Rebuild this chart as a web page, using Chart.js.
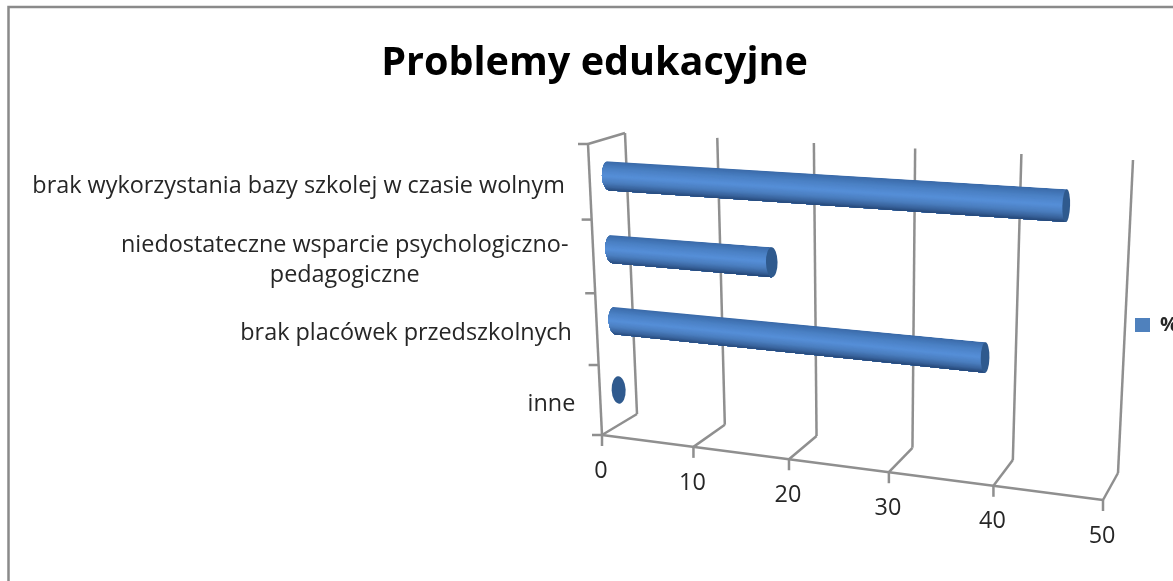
<!DOCTYPE html>
<html>
<head>
<meta charset="utf-8">
<title>Problemy edukacyjne</title>
<script src="https://cdn.jsdelivr.net/npm/chart.js@4"></script>
<style>
  html, body { margin: 0; background: #fff; }
  canvas { display: block; }
</style>
</head>
<body>
<canvas id="myChart" width="1173" height="581"></canvas>
<script>
"use strict";

const categories = [
  "inne",
  "brak placówek przedszkolnych",
  ["niedostateczne wsparcie psychologiczno-", "pedagogiczne"],
  "brak wykorzystania bazy szkolej w czasie wolnym",
];
const seriesName = "%";
const seriesValues = [0, 38, 17, 45];
const xTicks = [0, 10, 20, 30, 40, 50];

// corners of the tilted plot box on screen: top-left, top-right, bottom-right, bottom-left
const backWall = [[625, 133], [1133, 160], [1118, 473], [637, 414]];
const frontWall = [[588, 144], [1117, 176], [1103, 500], [602, 435]];
const gridColor = "#8f8f8f";

// colours across a cylinder, from its top edge to its bottom edge
const shadeStops = [
  [0, [58, 106, 168]],
  [0.25, [75, 129, 197]],
  [0.5, [86, 143, 216]],
  [0.72, [74, 125, 190]],
  [0.88, [56, 98, 155]],
  [1, [36, 70, 118]],
];

// *****perspective helpers*****

function quadMap(q) {
  const [p0, p1, p2, p3] = q;
  const dx1 = p1[0] - p2[0], dx2 = p3[0] - p2[0], sx = p0[0] - p1[0] + p2[0] - p3[0];
  const dy1 = p1[1] - p2[1], dy2 = p3[1] - p2[1], sy = p0[1] - p1[1] + p2[1] - p3[1];
  const det = dx1 * dy2 - dx2 * dy1;
  const g = (sx * dy2 - dx2 * sy) / det;
  const h = (dx1 * sy - sx * dy1) / det;
  const a = p1[0] - p0[0] + g * p1[0], b = p3[0] - p0[0] + h * p3[0];
  const d = p1[1] - p0[1] + g * p1[1], e = p3[1] - p0[1] + h * p3[1];
  return (u, v) => {
    const w = g * u + h * v + 1;
    return [(a * u + b * v + p0[0]) / w, (d * u + e * v + p0[1]) / w];
  };
}

const backMap = quadMap(backWall);
const frontMap = quadMap(frontWall);

// depth 0 is the front of the box, depth 1 the back wall
function project(u, v, depth) {
  const f = frontMap(u, v);
  const b = backMap(u, v);
  return [f[0] + (b[0] - f[0]) * depth, f[1] + (b[1] - f[1]) * depth];
}

function mix(a, b, t) {
  return [a[0] + (b[0] - a[0]) * t, a[1] + (b[1] - a[1]) * t];
}

function line(ctx, a, b) {
  ctx.beginPath();
  ctx.moveTo(a[0], a[1]);
  ctx.lineTo(b[0], b[1]);
  ctx.stroke();
}

function uOf(chart, px) {
  const area = chart.chartArea;
  return (px - area.left) / (area.right - area.left);
}

function vOf(chart, py) {
  const area = chart.chartArea;
  return (py - area.top) / (area.bottom - area.top);
}

function shadeAt(t) {
  let i = 0;
  while (i < shadeStops.length - 2 && t > shadeStops[i + 1][0]) i++;
  const [t0, c0] = shadeStops[i];
  const [t1, c1] = shadeStops[i + 1];
  const k = (t - t0) / (t1 - t0);
  const rgb = c0.map((c, n) => Math.round(c + (c1[n] - c) * k));
  return "rgb(" + rgb.join(",") + ")";
}

// *****box, ticks and labels*****

function drawBox(chart) {
  const ctx = chart.ctx;
  const xScale = chart.scales.x;
  const yScale = chart.scales.y;

  ctx.save();
  ctx.strokeStyle = gridColor;
  ctx.lineWidth = 2.5;

  xScale.ticks.forEach((tick) => {
    const u = uOf(chart, xScale.getPixelForValue(tick.value));
    const front = frontMap(u, 1);
    const back = backMap(u, 1);
    line(ctx, backMap(u, 0), back);
    line(ctx, back, front);
    line(ctx, front, [front[0], front[1] + 11]);
  });

  line(ctx, frontMap(0, 1), frontMap(1, 1));
  line(ctx, frontMap(0, 0), frontMap(0, 1));
  line(ctx, frontMap(0, 0), backMap(0, 0));

  for (let i = 0; i <= categories.length; i++) {
    const p = frontMap(0, i / categories.length);
    line(ctx, p, [p[0] - 10, p[1]]);
  }
  ctx.restore();

  ctx.save();
  ctx.fillStyle = "#262626";
  ctx.font = '23.4px "Open Sans"';
  ctx.textAlign = "center";
  ctx.textBaseline = "middle";
  xScale.ticks.forEach((tick) => {
    const u = uOf(chart, xScale.getPixelForValue(tick.value));
    const p = frontMap(u, 1);
    ctx.fillText(tick.label, p[0] - 1, p[1] + 36);
  });

  categories.forEach((label, i) => {
    const v = vOf(chart, yScale.getPixelForValue(i));
    const p = frontMap(0, v);
    const lines = Array.isArray(label) ? label : [label];
    const widest = Math.max(...lines.map((t) => ctx.measureText(t).width));
    const cx = p[0] - 25 - widest / 2;
    lines.forEach((t, n) => {
      ctx.fillText(t, cx, p[1] + 4 + (n - (lines.length - 1) / 2) * 30);
    });
  });
  ctx.restore();
}

// *****cylinders*****

function endEllipse(a, b, rx) {
  return {
    cx: (a[0] + b[0]) / 2,
    cy: (a[1] + b[1]) / 2,
    rx: rx,
    ry: Math.hypot(b[0] - a[0], b[1] - a[1]) / 2,
    rot: Math.atan2(b[1] - a[1], b[0] - a[0]) - Math.PI / 2,
  };
}

function drawCylinder(chart, bar) {
  const ctx = chart.ctx;
  const depth = 0.52;
  const u0 = uOf(chart, bar.base);
  const u1 = uOf(chart, bar.x);
  const vTop = vOf(chart, bar.y - bar.height / 2);
  const vBot = vOf(chart, bar.y + bar.height / 2);

  const tl = project(u0, vTop, depth);
  const bl = project(u0, vBot, depth);
  const tr = project(u1, vTop, depth);
  const br = project(u1, vBot, depth);

  const left = endEllipse(tl, bl, 7 - 3.5 * u0);
  const right = endEllipse(tr, br, 7 - 3.5 * u1);

  if (u1 > u0) {
    ctx.save();
    ctx.beginPath();
    ctx.ellipse(left.cx, left.cy, left.rx, left.ry, left.rot, Math.PI / 2, (Math.PI * 3) / 2);
    ctx.lineTo(tr[0], tr[1]);
    ctx.lineTo(br[0], br[1]);
    ctx.closePath();
    ctx.clip();

    // bands follow the bar's own taper, each one painted down to the bottom edge
    const bands = 36;
    const reach = left.rx + 3;
    for (let i = 0; i < bands; i++) {
      const t = i / bands;
      const a = mix(tl, bl, t);
      const b = mix(tr, br, t);
      ctx.beginPath();
      ctx.moveTo(a[0] - reach, a[1]);
      ctx.lineTo(b[0] + 1, b[1]);
      ctx.lineTo(br[0] + 1, br[1] + 1);
      ctx.lineTo(bl[0] - reach, bl[1] + 1);
      ctx.closePath();
      ctx.fillStyle = shadeAt((i + 0.5) / bands);
      ctx.fill();
    }
    ctx.restore();
  }

  ctx.beginPath();
  ctx.ellipse(right.cx, right.cy, right.rx, right.ry, right.rot, 0, Math.PI * 2);
  ctx.fillStyle = "#2f5a8e";
  ctx.fill();
}

const boxPlugin = {
  id: "boxPlugin",
  afterLayout(chart) {
    // legend sits beside the box, a bit below the middle
    const legend = chart.legend;
    const pad = legend.options.labels.padding;
    const w = legend.width;
    const h = legend.height;
    legend.left = 1135 - pad;
    legend.right = legend.left + w;
    legend.top = 315 - pad;
    legend.bottom = legend.top + h;
  },
  beforeDraw(chart) {
    const ctx = chart.ctx;
    ctx.save();
    ctx.strokeStyle = "#8a8a8a";
    ctx.lineWidth = 2.5;
    ctx.beginPath();
    ctx.moveTo(8.5, 581);
    ctx.lineTo(8.5, 7);
    ctx.lineTo(1173, 7);
    ctx.stroke();
    ctx.restore();
  },
  beforeDatasetsDraw(chart) {
    drawBox(chart);
    chart.getDatasetMeta(0).data.forEach((bar) => drawCylinder(chart, bar));
    return false;
  },
};

const ctx = document.getElementById("myChart");
const myChart = new Chart(ctx, {
  type: "bar",
  plugins: [boxPlugin],
  data: {
    labels: categories,
    datasets: [
      {
        label: seriesName,
        data: seriesValues,
        backgroundColor: "#4f81bd",
        categoryPercentage: 1,
        barPercentage: 0.4,
      },
    ],
  },
  options: {
    indexAxis: "y",
    responsive: false,
    animation: false,
    layout: { padding: { left: 16 } },
    scales: {
      x: {
        display: false,
        min: 0,
        max: 50,
        afterBuildTicks: (axis) => {
          axis.ticks = xTicks.map((value) => ({ value: value, label: String(value) }));
        },
      },
      y: { display: false, reverse: true },
    },
    plugins: {
      title: {
        display: true,
        text: "Problemy edukacyjne",
        color: "#000",
        font: { family: '"Open Sans"', size: 39.6, weight: "bold" },
        padding: { top: 40, bottom: 20 },
      },
      legend: {
        position: "right",
        align: "start",
        labels: {
          boxWidth: 15,
          boxHeight: 14,
          padding: 10,
          color: "#262626",
          font: { family: '"Open Sans"', size: 20, weight: "bold" },
        },
      },
      tooltip: { enabled: false },
    },
  },
});
</script>
</body>
</html>
